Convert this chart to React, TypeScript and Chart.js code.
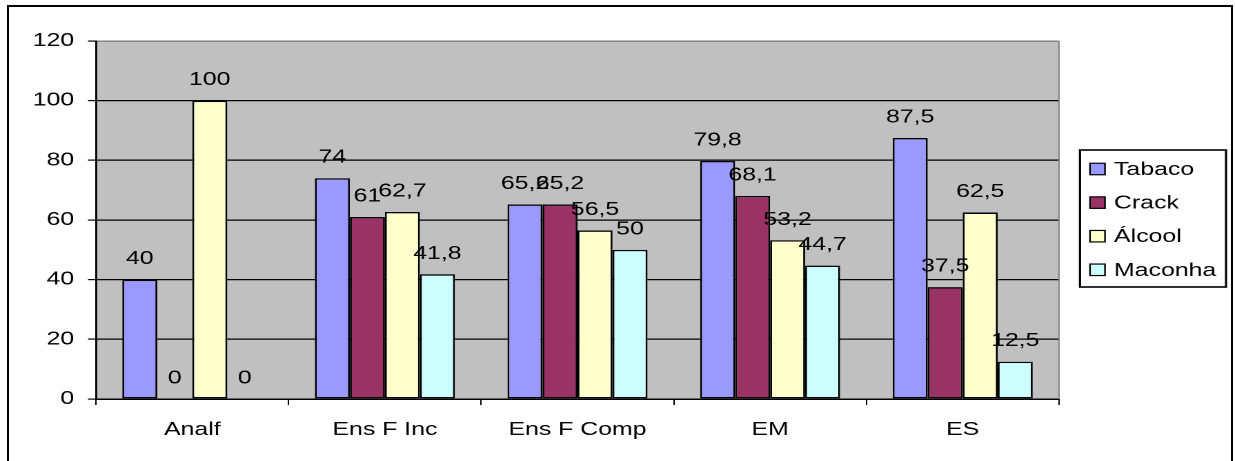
import React, { useEffect, useRef } from "react";
import { Chart, registerables } from "chart.js";

Chart.register(...registerables);

// Data
const categories = ["Analf", "Ens F Inc", "Ens F Comp", "EM", "ES"];
const tabaco = [40, 74, 65.2, 79.8, 87.5];
const crack = [0, 61, 65.2, 68.1, 37.5];
const alcool = [100, 62.7, 56.5, 53.2, 62.5];
const maconha = [0, 41.8, 50, 44.7, 12.5];
const seriesNames = ["Tabaco", "Crack", "Álcool", "Maconha"];
const seriesColors = ["#9999FF", "#993366", "#FFFFCC", "#CCFFFF"];
const yTicks = [0, 20, 40, 60, 80, 100, 120];

// The chart is drawn on a narrower canvas and widened horizontally with CSS,
// which gives the wide lettering of the original spreadsheet export.
const PAGE_W = 1235;
const H = 461;
const W = 895;
const S = PAGE_W / W;
const fx = (px: number) => px / S; // page x -> canvas x

const FONT = "'Liberation Sans', Arial, Helvetica, sans-serif";
const PLOT_LEFT = fx(96);
const PLOT_RIGHT = fx(1059);
const PLOT_TOP = 41;
const PLOT_BOTTOM = 399;

const fmt = (v: number) => String(v).replace(".", ",");

const plotBackground = {
  id: "plotBackground",
  beforeDraw(chart: any) {
    const { ctx, chartArea: a } = chart;
    ctx.save();
    ctx.fillStyle = "#C0C0C0";
    ctx.fillRect(a.left, a.top, a.right - a.left, a.bottom - a.top);
    ctx.restore();
  },
  afterDraw(chart: any) {
    const { ctx, chartArea: a } = chart;
    ctx.save();
    ctx.strokeStyle = "#808080";
    ctx.lineWidth = 1;
    ctx.beginPath();
    ctx.moveTo(a.right, a.top);
    ctx.lineTo(a.right, a.bottom);
    ctx.stroke();
    ctx.restore();
  },
};

const valueLabels = {
  id: "valueLabels",
  afterDatasetsDraw(chart: any) {
    const { ctx } = chart;
    ctx.save();
    ctx.fillStyle = "#000";
    ctx.font = `18px ${FONT}`;
    ctx.textAlign = "center";
    ctx.textBaseline = "alphabetic";
    chart.data.datasets.forEach((ds: any, di: number) => {
      const meta = chart.getDatasetMeta(di);
      meta.data.forEach((bar: any, i: number) => {
        ctx.fillText(fmt(ds.data[i]), bar.x, bar.y - 15.5);
      });
    });
    ctx.restore();
  },
};

const boxLegend = {
  id: "boxLegend",
  afterDraw(chart: any) {
    const { ctx } = chart;
    const left = fx(1080);
    const right = fx(1226);
    const top = 150;
    const bottom = 287;
    ctx.save();
    ctx.fillStyle = "#fff";
    ctx.fillRect(left, top, right - left, bottom - top);
    ctx.strokeStyle = "#000";
    ctx.lineWidth = 1.6;
    ctx.strokeRect(left, top, right - left, bottom - top);
    const firstY = 169;
    const step = 33.6;
    const mx = fx(1090);
    const mw = fx(1105) - fx(1090);
    const mh = 11.5;
    ctx.font = `18px ${FONT}`;
    ctx.textAlign = "left";
    ctx.textBaseline = "middle";
    chart.data.datasets.forEach((ds: any, i: number) => {
      const cy = firstY + i * step;
      ctx.fillStyle = ds.backgroundColor;
      ctx.fillRect(mx, cy - mh / 2, mw, mh);
      ctx.strokeStyle = "#000";
      ctx.lineWidth = 1.2;
      ctx.strokeRect(mx, cy - mh / 2, mw, mh);
      ctx.fillStyle = "#000";
      ctx.fillText(ds.label, fx(1114), cy + 1);
    });
    ctx.restore();
  },
};

export default function App() {
  const canvasRef = useRef<HTMLCanvasElement>(null);

  useEffect(() => {
    document.documentElement.style.overflow = "hidden";
    document.body.style.overflow = "hidden";
    const canvas = canvasRef.current;
    if (!canvas) return;
    const seriesValues = [tabaco, crack, alcool, maconha];
    const chart = new Chart(canvas, {
      type: "bar",
      data: {
        labels: categories,
        datasets: seriesNames.map((name, i) => ({
          label: name,
          data: seriesValues[i],
          backgroundColor: seriesColors[i],
          borderColor: "#000",
          borderWidth: 1.4,
          borderSkipped: false,
          categoryPercentage: 0.727,
          barPercentage: 1,
        })),
      },
      options: {
        animation: false,
        responsive: false,
        devicePixelRatio: 2,
        layout: {
          padding: { left: 0, right: W - PLOT_RIGHT, top: PLOT_TOP, bottom: 0 },
        },
        plugins: {
          legend: { display: false },
          tooltip: { enabled: false },
        },
        scales: {
          x: {
            grid: {
              display: true,
              drawOnChartArea: false,
              drawTicks: true,
              tickLength: 6,
              color: "#000",
              tickColor: "#000",
              lineWidth: 1,
              offset: true,
            },
            border: { display: true, color: "#000", width: 1.5 },
            ticks: {
              color: "#000",
              font: { family: FONT, size: 18 },
              padding: 14,
              maxRotation: 0,
              autoSkip: false,
            },
            afterFit: (s: any) => {
              s.height = H - PLOT_BOTTOM;
            },
          },
          y: {
            min: 0,
            max: 120,
            afterBuildTicks: (s: any) => {
              s.ticks = yTicks.map((v) => ({ value: v }));
            },
            grid: {
              color: (c: any) => (c.tick && c.tick.value === 120 ? "#7a7a7a" : "#000"),
              tickColor: "#000",
              lineWidth: 1.2,
              drawTicks: true,
              tickLength: fx(8),
            },
            border: { display: true, color: "#000", width: fx(2) },
            ticks: {
              color: "#000",
              font: { family: FONT, size: 18 },
              padding: 10,
            },
            afterFit: (s: any) => {
              s.width = PLOT_LEFT;
            },
          },
        },
      },
      plugins: [plotBackground, valueLabels, boxLegend],
    } as any);
    return () => chart.destroy();
  }, []);

  return (
    <div
      style={{
        position: "absolute",
        left: 0,
        top: 0,
        width: PAGE_W,
        height: H,
        overflow: "hidden",
        background: "#fff",
      }}
    >
      <div
        style={{
          position: "absolute",
          left: 0,
          top: 0,
          width: W,
          height: H,
          transform: `scaleX(${S})`,
          transformOrigin: "0 0",
        }}
      >
        <canvas ref={canvasRef} width={W} height={H} style={{ display: "block" }} />
      </div>
      <div
        style={{
          position: "absolute",
          left: 7,
          top: 5,
          width: 1226,
          height: H - 5,
          border: "2px solid #000",
          borderBottom: "none",
          boxSizing: "border-box",
          pointerEvents: "none",
        }}
      />
    </div>
  );
}
